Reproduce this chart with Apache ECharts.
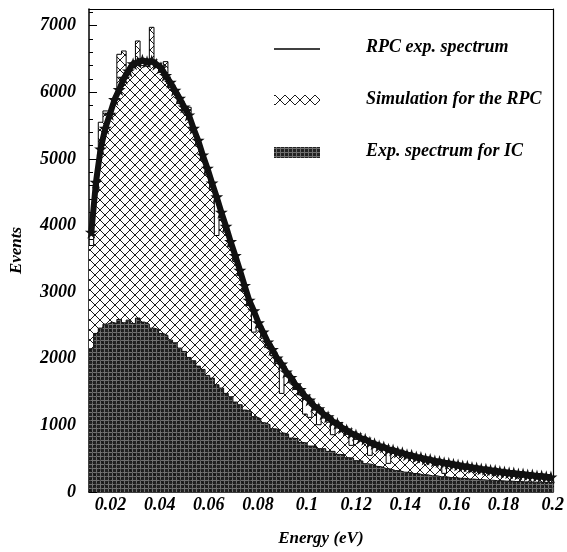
<!DOCTYPE html>
<html>
<head>
<meta charset="utf-8">
<script src="https://cdn.jsdelivr.net/npm/echarts@6/dist/echarts.min.js"></script>
<style>
html,body{margin:0;padding:0;background:#fff;}
#chart{width:567px;height:552px;}
</style>
</head>
<body>
<div id="chart"></div>
<script>
// ---- Data ----
const energyLow = 0.0112;    // lower edge of first bin (eV)
const binWidth = 0.00189;    // bin width (eV), 100 bins up to 0.2 eV

const rpcExpSpectrum = [3900,4650,5150,5460,5670,5890,6040,6210,6320,6430,
  6450,6480,6460,6470,6420,6370,6250,6150,6030,5910,
  5780,5660,5460,5280,5060,4860,4640,4430,4200,3990,
  3760,3550,3330,3100,2880,2720,2540,2400,2250,2140,
  2010,1920,1800,1720,1610,1540,1440,1380,1290,1250,
  1170,1130,1060,1030,965,930,880,855,810,790,
  745,725,690,675,640,630,600,590,560,552,
  525,518,495,488,465,458,438,432,415,407,
  390,385,366,362,346,342,326,322,306,302,
  288,286,272,270,256,254,241,240,228,224];

const simulationRPC = [3700,4500,5550,5720,5700,5900,6570,6620,6300,6380,
  6770,6400,6380,6975,6380,6300,6460,6070,5985,5830,
  5700,5775,5400,5190,4980,4760,4540,3850,4120,3900,
  3680,3460,3250,3010,2800,2400,2480,2310,2170,2050,
  1930,1480,1740,1640,1540,1460,1170,1120,1230,1010,
  1110,1050,860,960,905,865,700,790,760,730,
  550,670,650,620,430,580,560,540,520,500,
  485,470,455,440,425,410,280,390,375,362,
  350,340,328,318,307,298,288,280,270,262,
  254,246,238,231,224,217,210,204,198,192];

const expSpectrumIC = [2150,2380,2460,2520,2550,2530,2590,2540,2580,2530,
  2610,2550,2520,2460,2440,2380,2350,2280,2240,2160,
  2110,2020,1970,1890,1840,1750,1710,1610,1560,1480,
  1430,1350,1310,1230,1200,1130,1100,1040,1010,950,
  940,885,870,810,800,745,735,690,690,650,
  650,610,610,565,560,515,510,470,465,425,
  415,385,380,352,346,322,318,298,295,278,
  276,258,258,243,243,228,228,217,216,206,
  205,195,194,186,185,177,177,170,169,163,
  163,157,157,152,152,148,147,144,143,140];

const xTickLabels = [0.02,0.04,0.06,0.08,0.1,0.12,0.14,0.16,0.18,0.2];
const seriesNames = ['RPC exp. spectrum','Simulation for the RPC','Exp. spectrum for IC'];

// ---- Patterns ----
function makeHatch(){
  const c = document.createElement('canvas'); c.width = 10; c.height = 10;
  const g = c.getContext('2d');
  g.fillStyle = '#fff'; g.fillRect(0,0,10,10);
  g.strokeStyle = '#000'; g.lineWidth = 0.9;
  g.beginPath(); g.moveTo(-1,-1); g.lineTo(11,11); g.moveTo(11,-1); g.lineTo(-1,11); g.stroke();
  return c;
}
function makeDense(){
  const c = document.createElement('canvas'); c.width = 4; c.height = 4;
  const g = c.getContext('2d');
  g.fillStyle = 'rgba(20,20,20,0.94)'; g.fillRect(0,0,4,4);
  g.clearRect(0,0,1,4); g.clearRect(0,0,4,1);
  g.fillStyle = 'rgba(92,92,92,0.88)'; g.fillRect(0,0,1,4); g.fillRect(1,0,3,1);
  return c;
}
const hatchPattern = {image: makeHatch(), repeat: 'repeat'};
const densePattern = {image: makeDense(), repeat: 'repeat'};

function histData(vals){
  const d = vals.map((v,i) => [energyLow + i*binWidth, v]);
  d.push([energyLow + vals.length*binWidth, vals[vals.length-1]]);
  return d;
}
function pointData(vals){
  return vals.map((v,i) => [energyLow + (i+0.5)*binWidth, v]);
}

const FONT = '"Liberation Serif","Times New Roman",serif';
const lab = {fontFamily: FONT, fontStyle: 'italic', fontWeight: 'bold', color: '#000'};
const star = 'path://M50,0 L61,35 L98,35 L68,57 L79,91 L50,70 L21,91 L32,57 L2,35 L39,35 Z';

const chart = echarts.init(document.getElementById('chart'), null, {renderer: 'canvas'});
chart.setOption({
  animation: false,
  backgroundColor: '#fff',
  grid: {left: 86, right: 12, top: 9, bottom: 59, show: false},
  xAxis: [{
    type: 'value', min: energyLow, max: 0.2,
    name: 'Energy (eV)', nameLocation: 'middle', nameGap: 38,
    nameTextStyle: Object.assign({fontSize: 17}, lab),
    axisLine: {show: true, lineStyle: {color: '#000', width: 1.5}},
    axisTick: {show: true, inside: true, length: 8, customValues: xTickLabels, lineStyle: {color: '#000'}},
    axisLabel: Object.assign({fontSize: 18, margin: 4, customValues: xTickLabels,
      formatter: v => String(+(+v).toFixed(2))}, lab),
    splitLine: {show: false}
  },{
    type: 'value', min: energyLow, max: 0.2, position: 'top',
    axisLine: {show: true, onZero: false, lineStyle: {color: '#000', width: 1.2}},
    axisTick: {show: false}, axisLabel: {show: false}, splitLine: {show: false}
  }],
  yAxis: [{
    type: 'value', min: 0, max: 7250, interval: 1000,
    name: 'Events', nameLocation: 'middle', nameGap: 64, nameRotate: 90,
    nameTextStyle: Object.assign({fontSize: 17}, lab),
    axisLine: {show: true, lineStyle: {color: '#000', width: 1.5}},
    axisTick: {show: true, inside: true, length: 8, lineStyle: {color: '#000'}},
    minorTick: {show: true, splitNumber: 5, length: 4, lineStyle: {color: '#000'}},
    axisLabel: Object.assign({fontSize: 18, margin: 13, showMaxLabel: false,
      formatter: v => String(v)}, lab),
    splitLine: {show: false}
  },{
    type: 'value', min: 0, max: 7250, position: 'right',
    axisLine: {show: true, onZero: false, lineStyle: {color: '#000', width: 1.2}},
    axisTick: {show: false}, axisLabel: {show: false}, splitLine: {show: false}
  }],
  series: [
    {
      name: seriesNames[1], type: 'line', step: 'end', data: histData(simulationRPC),
      symbol: 'none', z: 2,
      lineStyle: {color: '#000', width: 1},
      areaStyle: {color: hatchPattern, opacity: 1}
    },
    {
      name: seriesNames[2], type: 'line', step: 'end', data: histData(expSpectrumIC),
      symbol: 'none', z: 3,
      lineStyle: {color: '#111', width: 1},
      areaStyle: {color: densePattern, opacity: 1}
    },
    {
      name: seriesNames[0], type: 'line', data: pointData(rpcExpSpectrum),
      z: 4, symbol: star, symbolSize: 13, showAllSymbol: true,
      itemStyle: {color: '#111'},
      lineStyle: {color: '#111', width: 6}
    }
  ],
  graphic: [
    {type: 'line', shape: {x1: 274, y1: 49, x2: 320, y2: 49}, style: {stroke: '#000', lineWidth: 1.5}, z: 10},
    {type: 'text', left: 366, top: 38, style: {text: seriesNames[0], font: 'italic bold 18px ' + FONT, fill: '#000'}, z: 10},
    {type: 'rect', shape: {x: 274, y: 95, width: 46, height: 10}, style: {fill: hatchPattern, stroke: null}, z: 10},
    {type: 'text', left: 366, top: 90, style: {text: seriesNames[1], font: 'italic bold 18px ' + FONT, fill: '#000'}, z: 10},
    {type: 'rect', shape: {x: 274, y: 147, width: 46, height: 11}, style: {fill: densePattern, stroke: null}, z: 10},
    {type: 'text', left: 366, top: 142, style: {text: seriesNames[2], font: 'italic bold 18px ' + FONT, fill: '#000'}, z: 10}
  ]
});
</script>
</body>
</html>
